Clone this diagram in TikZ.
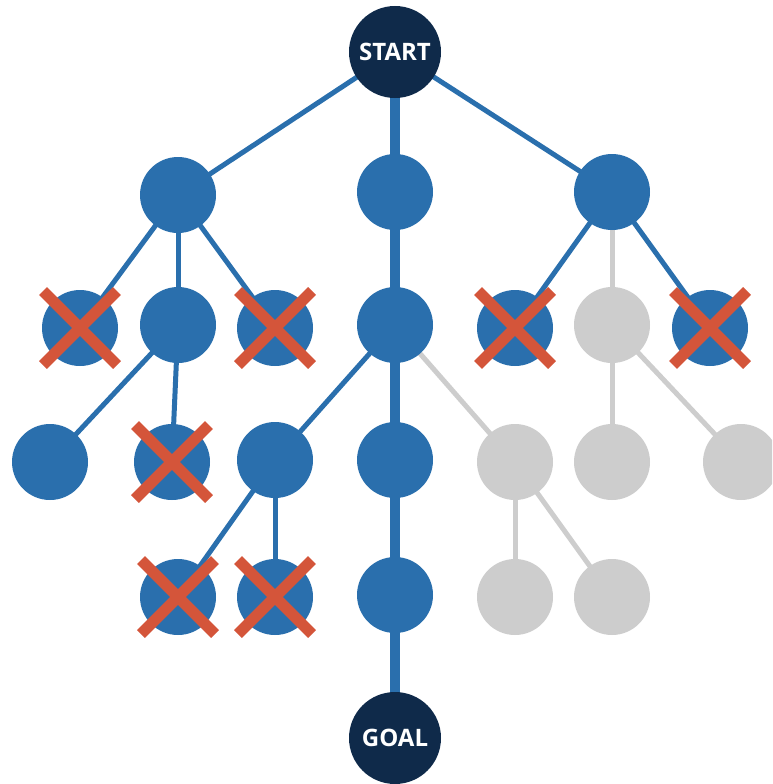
\documentclass[tikz,border=0pt]{standalone}
\usepackage{fontspec}
\setmainfont{Open Sans}
\usetikzlibrary{backgrounds}
\definecolor{treeblue}{HTML}{2A6FAD}
\definecolor{navy}{HTML}{0F2A4A}
\definecolor{cutred}{HTML}{D4553A}
\definecolor{unvisited}{HTML}{CDCDCD}
\begin{document}
\begin{tikzpicture}[x=1pt,y=-1pt,
  vnode/.style={circle,fill=treeblue,minimum size=76pt,inner sep=0pt},
  gnode/.style={circle,fill=unvisited,minimum size=76pt,inner sep=0pt},
  endnode/.style={circle,fill=navy,minimum size=92pt,inner sep=0pt,text=white,font=\fontsize{24}{24}\selectfont\bfseries},
  edge/.style={draw=treeblue,line width=5pt},
  pathedge/.style={draw=treeblue,line width=10pt},
  gedge/.style={draw=unvisited,line width=5pt},
  cross/.style={draw=cutred,line width=11pt}]
\useasboundingbox (0,0) rectangle (772,784);
\clip (0,0) rectangle (772,784);
% tree nodes
\node[endnode] (start) at (395,52) {START};
\node[vnode] (a) at (178,195) {};
\node[vnode] (b) at (395,192) {};
\node[vnode] (c) at (612,192) {};
\node[vnode] (a1) at (80,328) {};
\node[vnode] (a2) at (178,325) {};
\node[vnode] (a3) at (275,328) {};
\node[vnode] (b1) at (395,325) {};
\node[vnode] (c1) at (515,328) {};
\node[gnode] (c2) at (612,325) {};
\node[vnode] (c3) at (710,328) {};
\node[vnode] (d1) at (50,462) {};
\node[vnode] (d2) at (172,462) {};
\node[vnode] (e1) at (275,460) {};
\node[vnode] (e2) at (395,460) {};
\node[gnode] (e3) at (515,462) {};
\node[gnode] (f1) at (612,462) {};
\node[gnode] (f2) at (741,462) {};
\node[vnode] (g1) at (178,597) {};
\node[vnode] (g2) at (275,597) {};
\node[vnode] (h1) at (395,595) {};
\node[gnode] (i1) at (515,597) {};
\node[gnode] (i2) at (612,597) {};
\node[endnode] (goal) at (395,738) {GOAL};
% connectors behind the nodes
\begin{scope}[on background layer]
  \draw[edge] (start.center) -- (a.center);
  \draw[edge] (start.center) -- (c.center);
  \draw[edge] (a.center) -- (a1.center);
  \draw[edge] (a.center) -- (a2.center);
  \draw[edge] (a.center) -- (a3.center);
  \draw[edge] (c.center) -- (c1.center);
  \draw[edge] (c.center) -- (c3.center);
  \draw[edge] (a2.center) -- (d1.center);
  \draw[edge] (a2.center) -- (d2.center);
  \draw[edge] (b1.center) -- (e1.center);
  \draw[edge] (e1.center) -- (g1.center);
  \draw[edge] (e1.center) -- (g2.center);
  \draw[gedge] (c.center) -- (c2.center);
  \draw[gedge] (c2.center) -- (f1.center);
  \draw[gedge] (c2.center) -- (f2.center);
  \draw[gedge] (b1.center) -- (e3.center);
  \draw[gedge] (e3.center) -- (i1.center);
  \draw[gedge] (e3.center) -- (i2.center);
  \draw[pathedge] (start.center) -- (b.center) -- (b1.center) -- (e2.center) -- (h1.center) -- (goal.center);
\end{scope}
% pruned branches
\foreach \n in {a1,a3,c1,c3,d2,g1,g2}{
  \draw[cross] ([shift={(-37,-37)}]\n.center) -- ([shift={(37,37)}]\n.center);
  \draw[cross] ([shift={(-37,37)}]\n.center) -- ([shift={(37,-37)}]\n.center);
}
\end{tikzpicture}
\end{document}
